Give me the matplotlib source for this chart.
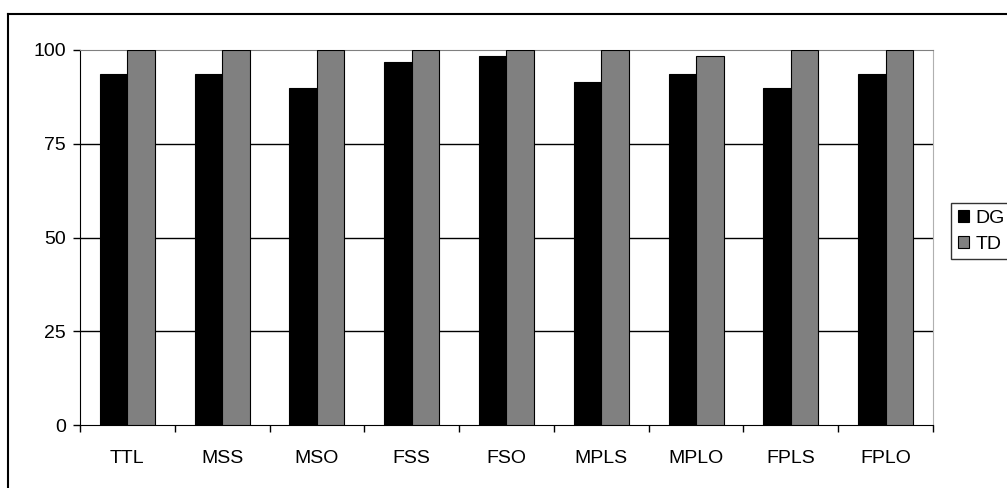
import numpy as np
import matplotlib.pyplot as plt
from matplotlib.lines import Line2D

plt.rcParams['font.family'] = ['Liberation Sans', 'DejaVu Sans']
plt.rcParams['font.size'] = 14

# kategorier och värden
categories = ['TTL', 'MSS', 'MSO', 'FSS', 'FSO', 'MPLS', 'MPLO', 'FPLS', 'FPLO']
dg = [93.5, 93.5, 90.0, 96.7, 98.4, 91.4, 93.5, 90.0, 93.5]
td = [100, 100, 100, 100, 100, 100, 98.3, 100, 100]

W, H = 1007, 488
fig = plt.figure(figsize=(W / 100, H / 100), dpi=100)
ax = fig.add_axes([80 / W, 1 - 425 / H, (933 - 80) / W, (425 - 50) / H])

x = np.arange(len(categories))
bw = 0.29
ax.bar(x - bw / 2, dg, bw, color='black', edgecolor='black', linewidth=0.8, label='DG', zorder=3)
ax.bar(x + bw / 2, td, bw, color='#808080', edgecolor='black', linewidth=0.8, label='TD', zorder=3)

ax.set_xlim(-0.5, len(categories) - 0.5)
ax.set_ylim(0, 100)
ax.set_yticks([0, 25, 50, 75, 100])
for yv in [25, 50, 75]:
    ax.axhline(yv, color='black', linewidth=1, zorder=1)

# kategorigränser som tickmarkeringar, etiketter i mitten
ax.set_xticks(np.arange(-0.5, len(categories)), labels=[''] * (len(categories) + 1))
ax.set_xticks(x, labels=categories, minor=True)
ax.tick_params(axis='x', which='major', direction='out', length=5, width=1, color='black')
ax.tick_params(axis='x', which='minor', length=0, pad=18, labelsize=14)
ax.tick_params(axis='y', direction='out', length=5, width=1, labelsize=14, pad=5)

ax.spines['left'].set_color('black')
ax.spines['bottom'].set_color('black')
ax.spines['top'].set_color('#808080')
ax.spines['right'].set_color('#b0b0b0')

# legend som sticker ut till höger
leg = fig.legend(loc='upper left', bbox_to_anchor=(951 / W, 1 - 203 / H),
                 fontsize=14, frameon=True, fancybox=False, edgecolor='black',
                 handlelength=0.6, handleheight=0.6, handletextpad=0.3,
                 borderpad=0.35, labelspacing=0.45, borderaxespad=0)
leg.get_frame().set_linewidth(1)

# yttre ram (vänster och överkant)
fig.add_artist(Line2D([8 / W, 8 / W], [0, 1 - 14 / H], transform=fig.transFigure, color='black', linewidth=1.5))
fig.add_artist(Line2D([8 / W, 1], [1 - 14 / H, 1 - 14 / H], transform=fig.transFigure, color='black', linewidth=1.5))

fig.savefig('out.png', dpi=100)
